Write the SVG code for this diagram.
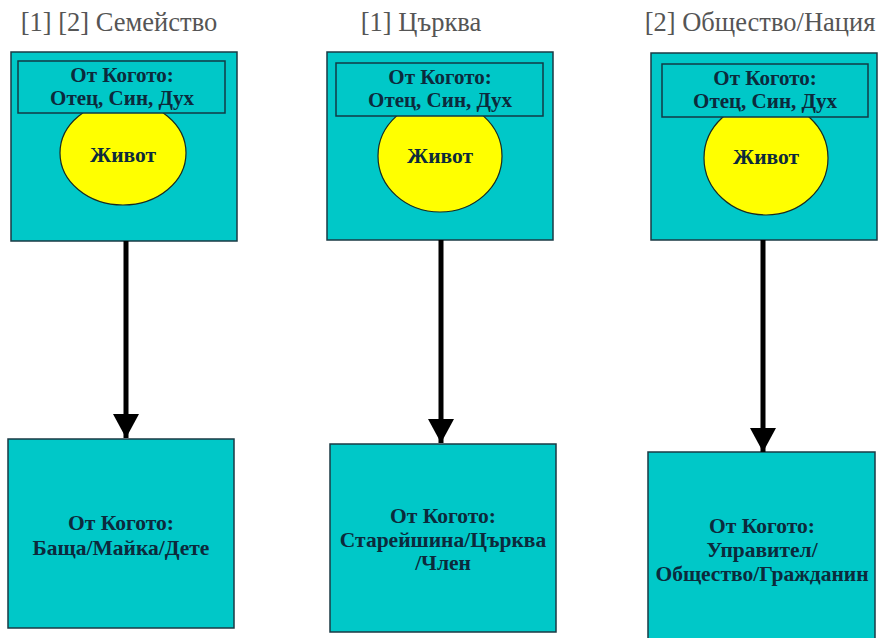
<svg xmlns="http://www.w3.org/2000/svg" width="878" height="638" viewBox="0 0 878 638">
<defs>
<style>
.box{fill:#00c8c8;stroke:#1a3a44;stroke-width:1.5}
.inner{fill:#00c8c8;stroke:#123a44;stroke-width:1.5}
.life{fill:#ffff00;stroke:#1a2a20;stroke-width:1.2}
.t{font-family:"Liberation Serif","Times New Roman",serif;font-weight:bold;font-size:21.5px;fill:#0c2a3c;text-anchor:middle}
.tt{font-size:21px}
.title{font-family:"Liberation Serif","Times New Roman",serif;font-size:26.5px;fill:#555;text-anchor:middle}
.conn{stroke:#000;stroke-width:5;fill:none}
</style>
<marker id="ah" markerWidth="4.8" markerHeight="5.2" refX="4.8" refY="2.6" orient="auto" markerUnits="strokeWidth">
<path d="M0,0 L4.8,2.6 L0,5.2 Z" fill="#000"/>
</marker>
</defs>
<rect width="878" height="638" fill="#fff"/>
<text class="title" x="119" y="31">[1] [2] Семейство</text>
<text class="title" x="421" y="31">[1] Църква</text>
<text class="title" x="760" y="31">[2] Общество/Нация</text>
<g id="top1">
<rect class="box" x="11" y="52" width="226" height="189"/>
<ellipse class="life" cx="123" cy="153" rx="63" ry="52"/>
<rect class="inner" x="18" y="61" width="207" height="52"/>
<text class="t tt" x="122" y="82">От Когото:</text>
<text class="t tt" x="122" y="105">Отец, Син, Дух</text>
<text class="t" x="123" y="162">Живот</text>
</g>
<g id="top2">
<rect class="box" x="327" y="52" width="226" height="188"/>
<ellipse class="life" cx="440" cy="156" rx="62" ry="56"/>
<rect class="inner" x="336" y="63" width="207" height="53"/>
<text class="t tt" x="440" y="84">От Когото:</text>
<text class="t tt" x="440" y="107">Отец, Син, Дух</text>
<text class="t" x="440" y="163">Живот</text>
</g>
<g id="top3">
<rect class="box" x="651" y="53" width="226" height="187"/>
<ellipse class="life" cx="766" cy="158" rx="62" ry="57"/>
<rect class="inner" x="662" y="64" width="206" height="53"/>
<text class="t tt" x="765" y="85">От Когото:</text>
<text class="t tt" x="765" y="108">Отец, Син, Дух</text>
<text class="t" x="766" y="164">Живот</text>
</g>
<g id="bottom1">
<rect class="box" x="8" y="439" width="226" height="189"/>
<text class="t" x="121" y="530">От Когото:</text>
<text class="t" x="121" y="555">Баща/Майка/Дете</text>
</g>
<g id="bottom2">
<rect class="box" x="330" y="444" width="226" height="188"/>
<text class="t" x="443" y="523">От Когото:</text>
<text class="t" x="443" y="547">Старейшина/Църква</text>
<text class="t" x="443" y="570">/Член</text>
</g>
<g id="bottom3">
<rect class="box" x="648" y="452" width="227" height="190"/>
<text class="t" x="762" y="533">От Когото:</text>
<text class="t" x="762" y="557">Управител/</text>
<text class="t" x="762" y="581">Общество/Гражданин</text>
</g>
<g id="connectors">
<line class="conn" x1="126" y1="241" x2="126" y2="438" marker-end="url(#ah)"/>
<line class="conn" x1="441" y1="240" x2="441" y2="443" marker-end="url(#ah)"/>
<line class="conn" x1="763" y1="240" x2="763" y2="452" marker-end="url(#ah)"/>
</g>
</svg>
